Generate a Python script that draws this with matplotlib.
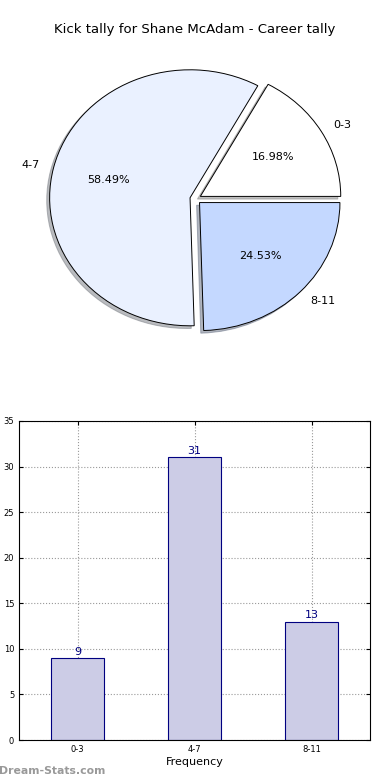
import matplotlib
matplotlib.use("Agg")
import matplotlib.pyplot as plt

categories = ["0-3", "4-7", "8-11"]
counts = [9, 31, 13]
pie_colors = ["#ffffff", "#eaf1ff", "#c4d8ff"]
title = "Kick tally for Shane McAdam - Career tally"

fig = plt.figure(figsize=(3.9, 7.8), dpi=100)
fig.text(0.5, 1 - 30 / 780, title, ha="center", va="center", fontsize=9.5)

# Pie
axp = fig.add_axes([20 / 390, 1 - 359 / 780, 351 / 390, 320 / 780])
wedges, texts, autotexts = axp.pie(
    counts, labels=categories, colors=pie_colors, explode=[0.04, 0.04, 0.04],
    autopct="%.2f%%", shadow={"ox": -0.015, "oy": -0.015, "shade": 0.5},
    startangle=0, labeldistance=1.1,
    pctdistance=0.6, wedgeprops=dict(edgecolor="black", linewidth=0.7),
    textprops=dict(fontsize=8))
axp.set_aspect("auto")
axp.set_xlim(-1.25, 1.25)
axp.set_ylim(-1.25, 1.25)
axp.axis("off")

# Bar
axb = fig.add_axes([19 / 390, 1 - 740 / 780, 351 / 390, 319 / 780])
x = list(range(len(categories)))
bars = axb.bar(x, counts, width=0.45, color="#ccccE6", edgecolor="#000080", linewidth=0.8, zorder=2)
for xi, c in zip(x, counts):
    axb.text(xi, c + 0.15, str(c), ha="center", va="bottom", color="#000080", fontsize=8)
axb.set_xlim(-0.5, 2.5)
axb.set_ylim(0, 35)
axb.set_yticks(range(0, 36, 5))
axb.set_xticks(x)
axb.set_xticklabels(categories)
axb.tick_params(labelsize=6, direction="in", length=3, top=True, right=True)
axb.grid(True, linestyle=":", color="#999999", linewidth=0.8, zorder=0)
axb.set_axisbelow(True)
axb.set_xlabel("Frequency", fontsize=8, labelpad=2)
axb.set_ylabel("Goal Kick Tally", fontsize=7, labelpad=2)
for s in axb.spines.values():
    s.set_linewidth(0.8)

fig.text(-0.003, 1 - 771 / 780, "Dream-Stats.com", ha="left", va="center",
         fontsize=7.8, color="#999999", fontweight="bold")

fig.savefig("out.png", dpi=100)
